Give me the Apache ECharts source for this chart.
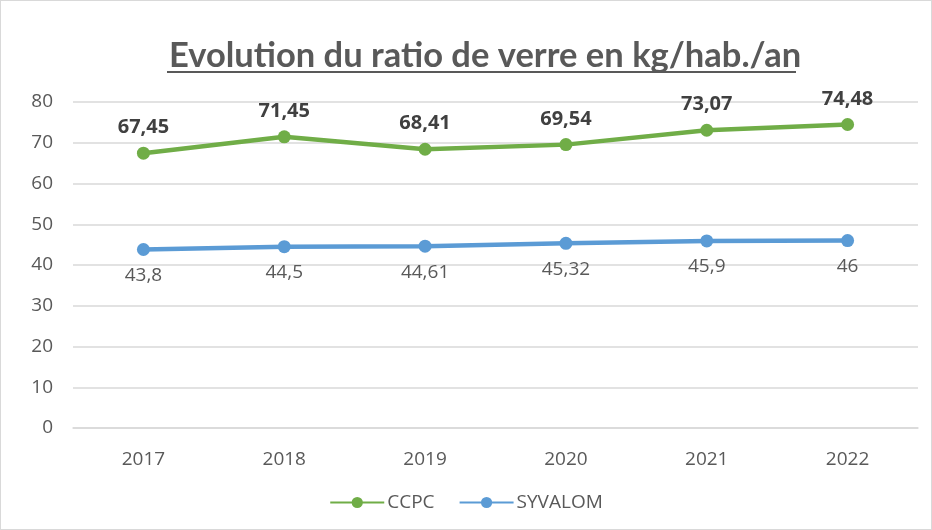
<!doctype html>
<html lang="fr">
<head>
    <meta charset="UTF-8">
    <title>Evolution du ratio de verre</title>
    <script src="https://cdn.jsdelivr.net/npm/echarts@6/dist/echarts.min.js"></script>
    <style>
        html, body { margin: 0; padding: 0; background: #fff; }
        #main { width: 930px; height: 528px; border: 1px solid #d9d9d9; }
    </style>
</head>
<body>
<div id="main"></div>
<script type="text/javascript">
    var years = ['2017', '2018', '2019', '2020', '2021', '2022'];
    var ccpc = [67.45, 71.45, 68.41, 69.54, 73.07, 74.48];
    var syvalom = [43.8, 44.5, 44.61, 45.32, 45.9, 46];

    var myChart = echarts.init(document.getElementById('main'));

    // virgule décimale
    function frNum(p) {
        return String(p.value).replace('.', ',');
    }

    var option = {
        backgroundColor: '#fff',
        animation: false,
        title: {
            text: 'Evolution du ratio de verre en kg/hab./an',
            left: 163,
            top: 32,
            textStyle: {
                color: '#595959',
                fontFamily: 'Lato',
                fontWeight: 'bold',
                fontSize: 34.5
            }
        },
        graphic: [{
            type: 'rect',
            left: 166,
            top: 70,
            shape: {width: 629, height: 2},
            style: {fill: '#595959'}
        }],
        grid: {left: 72, right: 13, top: 101, bottom: 101},
        legend: {
            bottom: 12,
            left: 'center',
            itemWidth: 54,
            itemHeight: 14,
            itemGap: 24,
            textStyle: {color: '#595959', fontSize: 19, fontFamily: 'Open Sans', padding: [0, 0, 0, -2]},
            data: ['CCPC', 'SYVALOM']
        },
        xAxis: {
            type: 'category',
            data: years,
            axisLine: {lineStyle: {color: '#d9d9d9', width: 1.5}},
            axisTick: {show: false},
            axisLabel: {color: '#595959', fontSize: 19, fontFamily: 'Open Sans', margin: 22}
        },
        yAxis: {
            type: 'value',
            min: 0,
            max: 80,
            interval: 10,
            axisLine: {show: false},
            axisTick: {show: false},
            axisLabel: {color: '#595959', fontSize: 19, fontFamily: 'Open Sans', margin: 20},
            splitLine: {lineStyle: {color: '#d9d9d9', width: 1.5}}
        },
        series: [
            {
                name: 'CCPC',
                type: 'line',
                data: ccpc,
                symbol: 'circle',
                symbolSize: 13,
                color: '#70ad47',
                lineStyle: {width: 4.5},
                label: {
                    show: true,
                    position: 'top',
                    distance: 9,
                    formatter: frNum,
                    color: '#404040',
                    fontWeight: 'bold',
                    fontSize: 20,
                    fontFamily: 'Open Sans'
                }
            },
            {
                name: 'SYVALOM',
                type: 'line',
                data: syvalom,
                symbol: 'circle',
                symbolSize: 13,
                color: '#5b9bd5',
                lineStyle: {width: 4.5},
                label: {
                    show: true,
                    position: 'bottom',
                    distance: 10,
                    formatter: frNum,
                    color: '#595959',
                    fontSize: 19,
                    fontFamily: 'Open Sans'
                }
            }
        ]
    };

    myChart.setOption(option);
</script>
</body>
</html>
